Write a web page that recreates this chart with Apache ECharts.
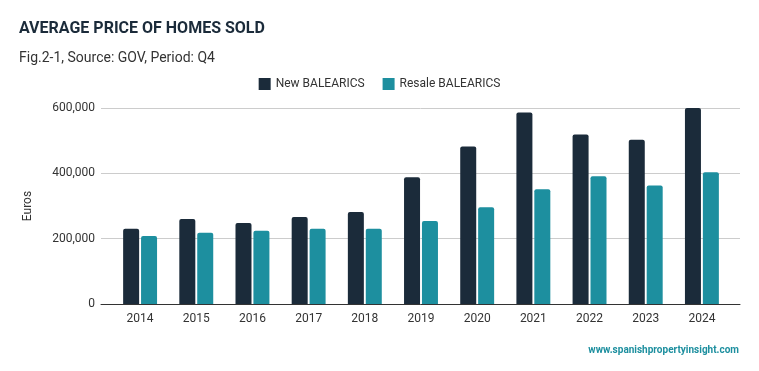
<!DOCTYPE html>
<html><head><meta charset="utf-8">
<script src="https://cdn.jsdelivr.net/npm/echarts@6/dist/echarts.min.js"></script>
<style>html,body{margin:0;padding:0;background:#fff}#c{width:759px;height:371px}</style>
</head><body><div id="c"></div>
<script>
const categories = ['2014','2015','2016','2017','2018','2019','2020','2021','2022','2023','2024'];
const newValues = [230000,260000,248000,266000,282000,388000,482000,586000,519000,503000,600000];
const resaleValues = [208000,218000,224000,230000,230000,254000,296000,351000,391000,363000,403000];
const yTicks = [0,200000,400000,600000];
const seriesNames = ['New BALEARICS','Resale BALEARICS'];
const colors = ['#1b2b3a','#1d8f9f'];

const chart = echarts.init(document.getElementById('c'));
const fmt = v => v.toLocaleString('en-US');
chart.setOption({
  animation:false,
  textStyle:{fontFamily:'Roboto'},
  title:[
    {text:'AVERAGE PRICE OF HOMES SOLD',left:14,top:16,textStyle:{fontSize:16,fontWeight:'bold',color:'#1b2b3a',fontFamily:'Roboto'}},
    {text:'Fig.2-1, Source: GOV, Period: Q4',left:14,top:46,textStyle:{fontSize:14,fontWeight:'normal',color:'#333',fontFamily:'Roboto'}},
    {text:'www.spanishpropertyinsight.com',right:15,top:340,textStyle:{fontSize:10,fontWeight:'bold',color:'#1d8f9f',fontFamily:'Roboto'}}
  ],
  legend:{top:73,left:'center',itemWidth:12,itemHeight:12,itemGap:18,icon:'rect',
    textStyle:{fontSize:12,color:'#333'},data:seriesNames},
  grid:[
    {left:101,right:19,top:108,bottom:67},
    {left:112,right:29,top:108,bottom:67}
  ],
  xAxis:[
    {type:'category',gridIndex:0,data:categories,axisLine:{lineStyle:{color:'#333',width:1}},axisTick:{show:false},axisLabel:{show:false}},
    {type:'category',gridIndex:1,data:categories,axisLine:{show:false},axisTick:{show:false},
     axisLabel:{fontSize:12,color:'#333',margin:9}}
  ],
  yAxis:[
    {type:'value',gridIndex:0,min:0,max:600000,interval:200000,name:'Euros',nameLocation:'middle',nameGap:67,
     nameTextStyle:{fontSize:12,color:'#333'},
     axisLabel:{fontSize:12,color:'#333',formatter:fmt,margin:6},splitLine:{lineStyle:{color:'#cccccc'}},
     axisLine:{show:false},axisTick:{show:false}},
    {type:'value',gridIndex:1,min:0,max:600000,interval:200000,show:false,splitLine:{show:false}}
  ],
  series:[
    {name:seriesNames[0],type:'bar',xAxisIndex:1,yAxisIndex:1,data:newValues,barWidth:16,barGap:'12%',
     itemStyle:{color:colors[0],borderRadius:[2,2,0,0]}},
    {name:seriesNames[1],type:'bar',xAxisIndex:1,yAxisIndex:1,data:resaleValues,barWidth:16,barGap:'12%',
     itemStyle:{color:colors[1],borderRadius:[2,2,0,0]}}
  ]
});
</script></body></html>
